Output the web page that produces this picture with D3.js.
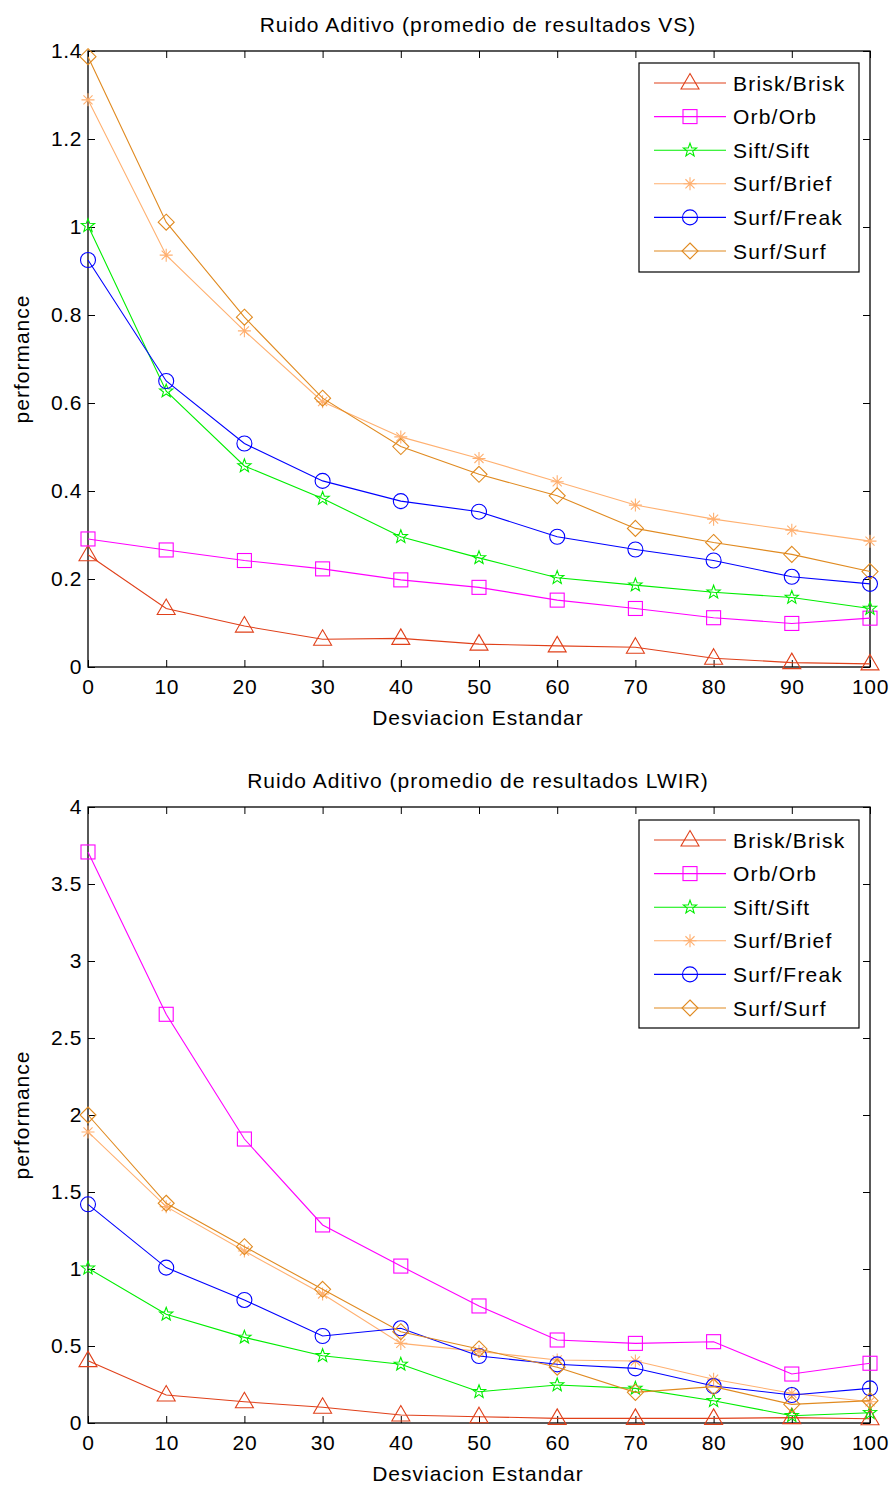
<!DOCTYPE html>
<html><head><meta charset="utf-8">
<script src="https://cdn.jsdelivr.net/npm/d3@7/dist/d3.min.js"></script>
<style>body{margin:0;background:#fff}svg{display:block}text{font-family:"Liberation Sans",Arial,sans-serif;fill:#000}</style>
</head><body>
<script>
const xValues = [0,10,20,30,40,50,60,70,80,90,100];
const seriesNames = ["Brisk/Brisk","Orb/Orb","Sift/Sift","Surf/Brief","Surf/Freak","Surf/Surf"];
const seriesColors = ["#e0401a","#ff00ff","#00ee00","#ffb070","#0000ff","#e08a20"];
const seriesMarkers = ["triangle","square","star","asterisk","circle","diamond"];

// Panel 1: VS
const vsBrisk = [0.255,0.133,0.093,0.063,0.065,0.052,0.048,0.045,0.020,0.010,0.007];
const vsOrb   = [0.291,0.266,0.242,0.223,0.198,0.181,0.152,0.133,0.112,0.099,0.111];
const vsSift  = [1.003,0.627,0.457,0.383,0.296,0.248,0.203,0.186,0.170,0.158,0.133];
const vsBrief = [1.289,0.936,0.764,0.603,0.523,0.474,0.421,0.368,0.336,0.311,0.286];
const vsFreak = [0.925,0.650,0.508,0.423,0.377,0.353,0.296,0.267,0.242,0.205,0.189];
const vsSurf  = [1.387,1.011,0.795,0.611,0.501,0.438,0.389,0.315,0.283,0.256,0.217];
const vsTicks = [0,0.2,0.4,0.6,0.8,1,1.2,1.4];

// Panel 2: LWIR
const lwBrisk = [0.405,0.182,0.138,0.102,0.052,0.041,0.030,0.030,0.030,0.035,0.028];
const lwOrb   = [3.708,2.654,1.844,1.286,1.019,0.760,0.539,0.517,0.528,0.318,0.388];
const lwSift  = [1.005,0.706,0.556,0.437,0.381,0.203,0.247,0.225,0.145,0.047,0.067];
const lwBrief = [1.890,1.405,1.117,0.838,0.517,0.465,0.409,0.403,0.284,0.193,0.138];
const lwFreak = [1.420,1.009,0.799,0.565,0.615,0.435,0.381,0.355,0.240,0.182,0.225];
const lwSurf  = [2.000,1.427,1.145,0.868,0.593,0.481,0.362,0.199,0.236,0.121,0.145];
const lwTicks = [0,0.5,1,1.5,2,2.5,3,3.5,4];

const W = 894, H = 1488;
const svg = d3.select("body").append("svg").attr("width", W).attr("height", H);

function marker(g, type, color, x, y) {
  const s = g.append("g").attr("transform", `translate(${x},${y})`)
    .attr("fill","none").attr("stroke",color).attr("stroke-width",1.1);
  if (type === "triangle") {
    s.append("path").attr("d","M0,-9.5L9,6L-9,6Z");
  } else if (type === "square") {
    s.append("rect").attr("x",-7).attr("y",-7).attr("width",14).attr("height",14);
  } else if (type === "circle") {
    s.append("circle").attr("r",7.5);
  } else if (type === "diamond") {
    s.append("path").attr("d","M0,-8L8,0L0,8L-8,0Z");
  } else if (type === "star") {
    const pts = [];
    for (let i = 0; i < 10; i++) {
      const r = i % 2 === 0 ? 7 : 2.9;
      const a = -Math.PI/2 + i*Math.PI/5;
      pts.push([r*Math.cos(a), r*Math.sin(a)]);
    }
    s.append("path").attr("d", "M" + pts.map(p=>p.join(",")).join("L") + "Z");
  } else if (type === "asterisk") {
    const r = 6.5;
    s.append("path").attr("d",
      `M${-r},0L${r},0M0,${-r}L0,${r}M${-r*0.7},${-r*0.7}L${r*0.7},${r*0.7}M${-r*0.7},${r*0.7}L${r*0.7},${-r*0.7}`);
  }
}

function panel(cfg) {
  const {top, bottom, left, right, yMax, ticks, data, title, legendBox} = cfg;
  const x = d3.scaleLinear().domain([0,100]).range([left,right]);
  const y = d3.scaleLinear().domain([0,yMax]).range([bottom,top]);
  const g = svg.append("g");

  // title
  g.append("text").attr("x",(left+right)/2 - 1).attr("y",top-19).attr("text-anchor","middle")
    .attr("font-size",21).attr("letter-spacing","1px").text(title);

  // axes with inward ticks
  const tl = 7;
  const fmt = d => String(d);
  const styleText = a => a.selectAll("text").attr("font-size",21).attr("letter-spacing","0.6px")
      .attr("font-family","Liberation Sans, Arial, sans-serif").attr("fill","#000");
  g.append("g").attr("transform",`translate(0,${bottom})`)
    .call(d3.axisBottom(x).tickValues(xValues).tickSize(-tl).tickPadding(12).tickFormat(fmt))
    .call(a=>{a.select(".domain").remove(); styleText(a); a.selectAll("line").attr("stroke","#000");});
  g.append("g").attr("transform",`translate(0,${top})`)
    .call(d3.axisTop(x).tickValues(xValues).tickSize(-tl).tickFormat(""))
    .call(a=>{a.select(".domain").remove(); a.selectAll("line").attr("stroke","#000");});
  g.append("g").attr("transform",`translate(${left},0)`)
    .call(d3.axisLeft(y).tickValues(ticks).tickSize(-tl).tickPadding(6).tickFormat(fmt))
    .call(a=>{a.select(".domain").remove(); styleText(a); a.selectAll("line").attr("stroke","#000");});
  g.append("g").attr("transform",`translate(${right},0)`)
    .call(d3.axisRight(y).tickValues(ticks).tickSize(-tl).tickFormat(""))
    .call(a=>{a.select(".domain").remove(); a.selectAll("line").attr("stroke","#000");});
  g.append("rect").attr("x",left).attr("y",top).attr("width",right-left).attr("height",bottom-top)
    .attr("fill","none").attr("stroke","#000").attr("stroke-width",1.3);

  // axis labels
  g.append("text").attr("x",(left+right)/2 - 1).attr("y",bottom+58).attr("text-anchor","middle")
    .attr("font-size",21).attr("letter-spacing","1px").text("Desviacion Estandar");
  g.append("text").attr("transform",`translate(29,${(top+bottom)/2}) rotate(-90)`)
    .attr("text-anchor","middle").attr("font-size",21).attr("letter-spacing","1px").text("performance");

  // series
  const line = d3.line().x((d,i)=>x(xValues[i])).y(d=>y(d));
  data.forEach((vals, si) => {
    g.append("path").attr("d", line(vals)).attr("fill","none")
      .attr("stroke", seriesColors[si]).attr("stroke-width",1.1);
    vals.forEach((v,i) => marker(g, seriesMarkers[si], seriesColors[si], x(xValues[i]), y(v)));
  });

  // legend
  const lb = legendBox;
  g.append("rect").attr("x",lb.x).attr("y",lb.y).attr("width",lb.w).attr("height",lb.h)
    .attr("fill","#fff").attr("stroke","#000").attr("stroke-width",1.2);
  seriesNames.forEach((name, si) => {
    const ry = lb.y + 20 + si*33.6;
    g.append("line").attr("x1",lb.x+15).attr("x2",lb.x+87).attr("y1",ry).attr("y2",ry)
      .attr("stroke",seriesColors[si]).attr("stroke-width",1.1);
    marker(g, seriesMarkers[si], seriesColors[si], lb.x+51, ry);
    g.append("text").attr("x",lb.x+94).attr("y",ry).attr("dy","0.36em")
      .attr("font-size",21).attr("letter-spacing","1.2px").text(name);
  });
}

panel({top:51,bottom:667,left:88,right:870,yMax:1.4,ticks:vsTicks,
  data:[vsBrisk,vsOrb,vsSift,vsBrief,vsFreak,vsSurf],
  title:"Ruido Aditivo (promedio de resultados VS)",
  legendBox:{x:639,y:63,w:220,h:209}});
panel({top:807,bottom:1423,left:88,right:870,yMax:4,ticks:lwTicks,
  data:[lwBrisk,lwOrb,lwSift,lwBrief,lwFreak,lwSurf],
  title:"Ruido Aditivo (promedio de resultados LWIR)",
  legendBox:{x:639,y:820,w:220,h:208}});
</script>
</body></html>
